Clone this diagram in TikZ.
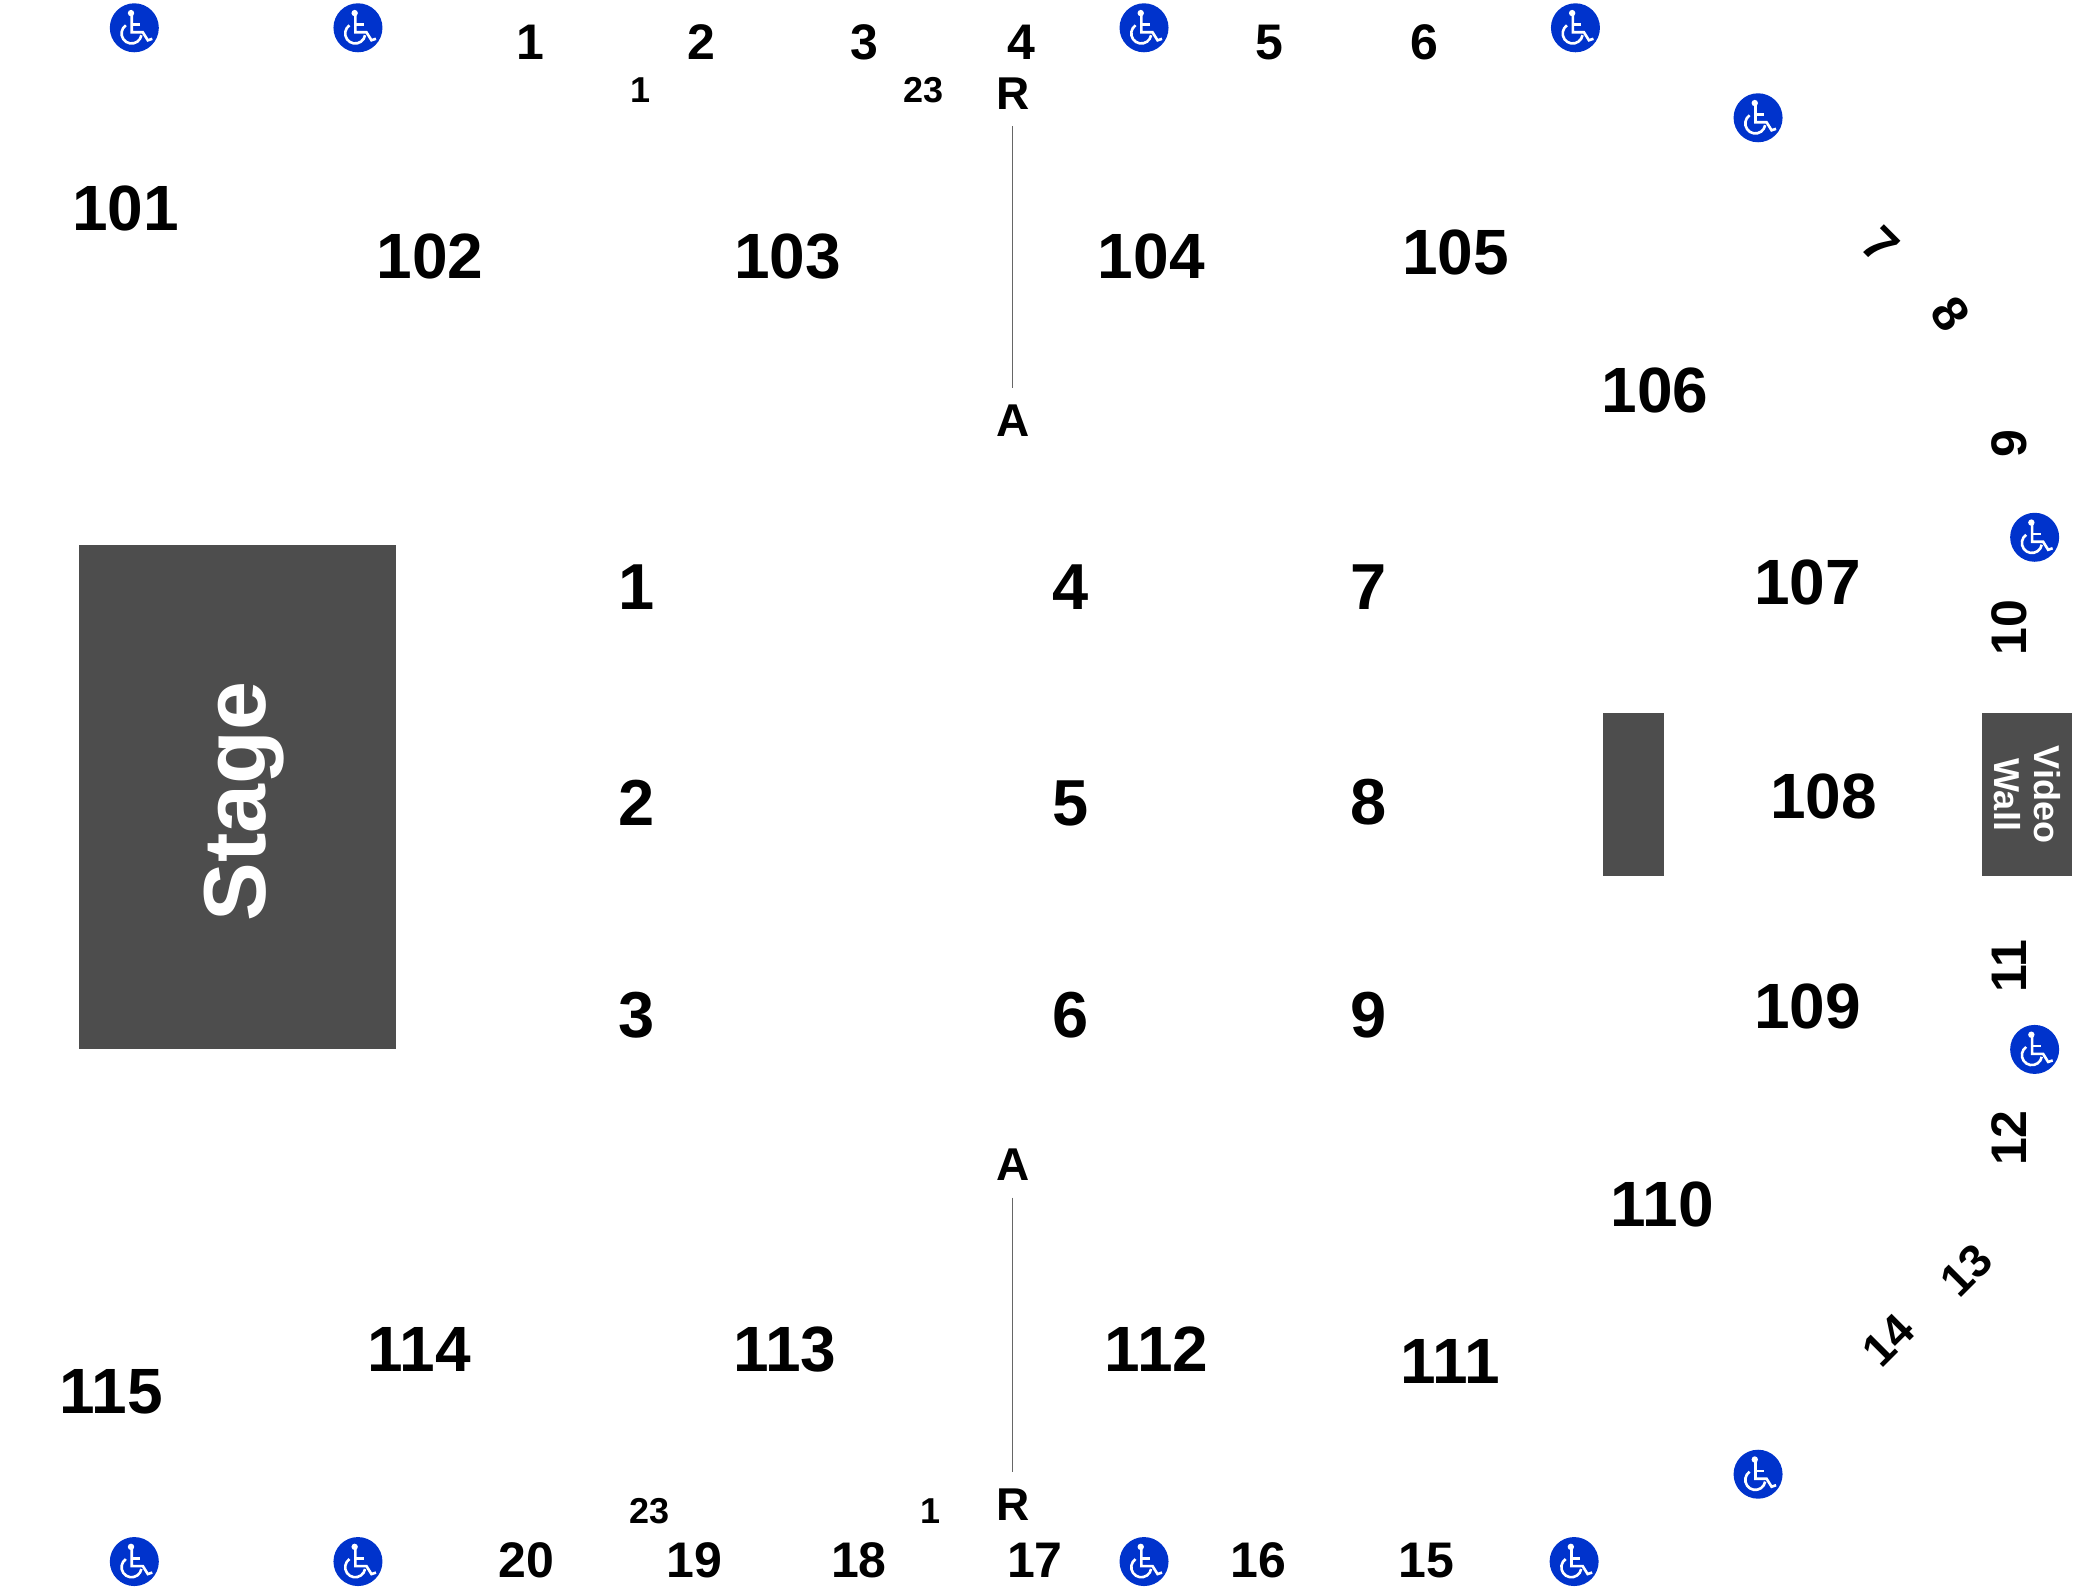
\documentclass[tikz,border=0pt]{standalone}
\usepackage{fontspec}
\setmainfont{Liberation Sans}
\definecolor{wheelblue}{HTML}{0033CC}
\definecolor{blockgray}{HTML}{4D4D4D}
\definecolor{linegray}{HTML}{666666}

\begin{document}
\begin{tikzpicture}[
  x=1.3233pt,y=-1.3233pt,
  sectionlabel/.style={font=\fontsize{64}{64}\selectfont\bfseries,inner sep=0pt},
  gridlabel/.style={font=\fontsize{65}{65}\selectfont\bfseries,inner sep=0pt},
  aislelabel/.style={font=\fontsize{50}{50}\selectfont\bfseries,inner sep=0pt},
  tiltlabel/.style={font=\fontsize{46}{46}\selectfont\bfseries,inner sep=0pt},
  seatlabel/.style={font=\fontsize{36}{36}\selectfont\bfseries,inner sep=0pt},
  rowlabel/.style={font=\fontsize{46}{46}\selectfont\bfseries,inner sep=17pt},
  block/.style={fill=blockgray,text=white,align=center,inner sep=0pt},
  wheel/.style={circle,fill=wheelblue,minimum size=49pt,inner sep=0pt,
    path picture={
      \begin{scope}[shift={(path picture bounding box.center)},x=1pt,y=-1pt,white,line width=2.6pt]
        \fill (-3.3,-14.7) circle (3.2);
        \draw (-2.6,-14.7) -- (-2.6,4.5) -- (8.5,4.5) -- (13.5,12.5) -- (18,11);
        \draw (-2.6,-3.3) -- (6,-3.3);
        \draw (-8.5,-2.5) arc[start angle=125,end angle=350,radius=10pt];
      \end{scope}
    }}
]
\path[use as bounding box] (0,0) rectangle (1568,1200);

\node[block,minimum width=504pt,minimum height=316.5pt,rotate=90,text height=63.4pt,text depth=7pt,font=\fontsize{88}{88}\selectfont\bfseries] (stage) at (179.5,602.5) {Stage\hspace{9pt}};
\node[block,minimum width=61pt,minimum height=163pt] (riser) at (1234,600.5) {};
\node[block,minimum width=163pt,minimum height=90pt,rotate=-90,font=\fontsize{36}{40}\selectfont\bfseries] (videowall) at (1532,600.5) {Video\\Wall};

\node[wheel] (w1) at (101.5,21) {};
\node[wheel] (w2) at (270.5,21) {};
\node[wheel] (w3) at (864.5,21) {};
\node[wheel] (w4) at (1190.5,21) {};
\node[wheel] (w5) at (1328.5,89) {};
\node[wheel] (w6) at (1537.5,406) {};
\node[wheel] (w7) at (1537.5,793) {};
\node[wheel] (w8) at (1328.5,1114) {};
\node[wheel] (w9) at (1189.5,1180) {};
\node[wheel] (w10) at (864.5,1180) {};
\node[wheel] (w11) at (270.5,1180) {};
\node[wheel] (w12) at (101.5,1180) {};

\node[sectionlabel] (s101) at (95,157.5) {101};
\node[sectionlabel] (s102) at (325,193.5) {102};
\node[sectionlabel] (s103) at (595,193.5) {103};
\node[sectionlabel] (s104) at (870,193.5) {104};
\node[sectionlabel] (s105) at (1100,190.5) {105};
\node[sectionlabel] (s106) at (1250.5,295) {106};
\node[sectionlabel] (s107) at (1366,440.5) {107};
\node[sectionlabel] (s108) at (1378,601.5) {108};
\node[sectionlabel] (s109) at (1366,760.5) {109};
\node[sectionlabel] (s110) at (1256,910.5) {110};
\node[sectionlabel] (s111) at (1096,1028.5) {111};
\node[sectionlabel] (s112) at (874,1019.5) {112};
\node[sectionlabel] (s113) at (593,1019.5) {113};
\node[sectionlabel] (s114) at (317,1019.5) {114};
\node[sectionlabel] (s115) at (84,1051.5) {115};

\node[gridlabel] (g1) at (481,444) {1};
\node[gridlabel] (g2) at (481,607) {2};
\node[gridlabel] (g3) at (481,767) {3};
\node[gridlabel] (g4) at (809,444) {4};
\node[gridlabel] (g5) at (809,607) {5};
\node[gridlabel] (g6) at (809,767) {6};
\node[gridlabel] (g7) at (1034,444) {7};
\node[gridlabel] (g8) at (1034,606) {8};
\node[gridlabel] (g9) at (1034,767) {9};

\node[aislelabel] (a1) at (401,32) {1};
\node[aislelabel] (a2) at (530,32) {2};
\node[aislelabel] (a3) at (653,32) {3};
\node[aislelabel] (a4) at (772,32) {4};
\node[aislelabel] (a5) at (959,32) {5};
\node[aislelabel] (a6) at (1076,32) {6};
\node[aislelabel,rotate=-45] (a7) at (1421,185) {7};
\node[aislelabel,rotate=-55] (a8) at (1474,237) {8};
\node[aislelabel,rotate=90] (a9) at (1518,335) {9};
\node[aislelabel,rotate=90] (a10) at (1518,474) {10};
\node[aislelabel,rotate=90] (a11) at (1518,730) {11};
\node[aislelabel,rotate=90] (a12) at (1518,860) {12};
\node[tiltlabel,rotate=45] (a13) at (1486,960) {13};
\node[tiltlabel,rotate=45] (a14) at (1427,1013) {14};
\node[aislelabel] (a15) at (1078,1179) {15};
\node[aislelabel] (a16) at (951,1179) {16};
\node[aislelabel] (a17) at (782,1179) {17};
\node[aislelabel] (a18) at (649,1179) {18};
\node[aislelabel] (a19) at (525,1179) {19};
\node[aislelabel] (a20) at (398,1179) {20};

\node[seatlabel] (t1) at (484,68) {1};
\node[seatlabel] (t23) at (698,68) {23};
\node[seatlabel] (b23) at (491,1142) {23};
\node[seatlabel] (b1) at (703,1142) {1};

\node[rowlabel] (tr) at (765.4,70.5) {R};
\node[rowlabel] (ta) at (765.4,318) {A};
\node[rowlabel] (ba) at (765.4,880) {A};
\node[rowlabel] (br) at (765.4,1137) {R};

\path (tr) edge[linegray,line width=1pt] (ta)
(ba) edge[linegray,line width=1pt] (br)
;

\end{tikzpicture}
\end{document}
